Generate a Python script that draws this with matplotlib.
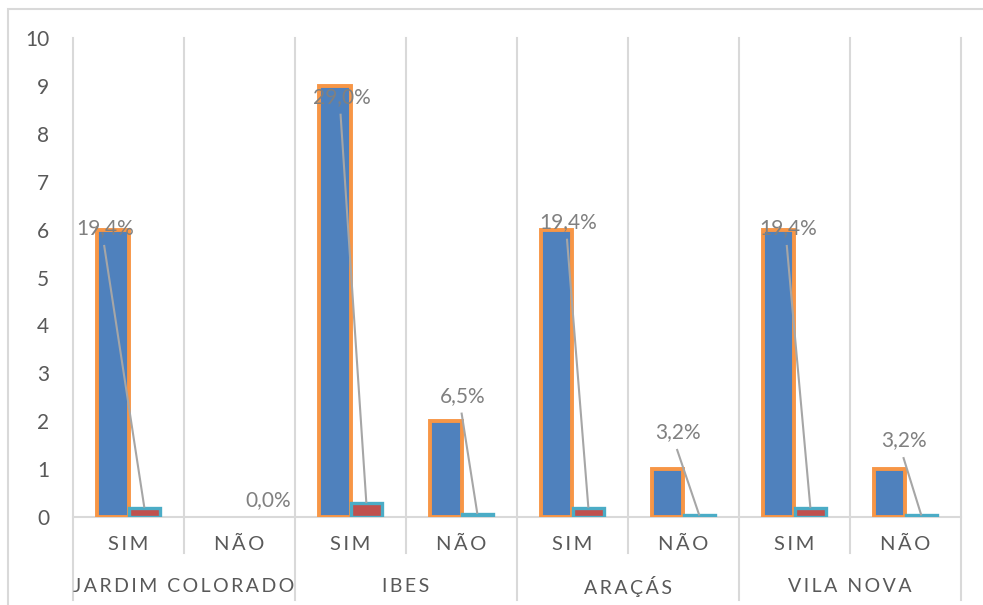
import matplotlib.pyplot as plt
from matplotlib.patches import Rectangle
import numpy as np

plt.rcParams['font.family'] = ['Lato', 'DejaVu Sans']

# data
groups = ["JARDIM COLORADO", "IBES", "ARAÇÁS", "VILA NOVA"]
answers = ["SIM", "NÃO"]
counts = [6, 0, 9, 2, 6, 1, 6, 1]
shares = [0.194, 0.0, 0.290, 0.065, 0.194, 0.032, 0.194, 0.032]
share_labels = ["19,4%", "0,0%", "29,0%", "6,5%", "19,4%", "3,2%", "19,4%", "3,2%"]
yticks = list(range(0, 11))

# hand placed label positions (dx from category centre, y in value units)
label_pos = [(-0.21, 6.03), (0.26, 0.35), (-0.08, 8.77), (0.01, 2.53),
             (-0.04, 6.16), (-0.05, 1.77), (-0.06, 6.03), (-0.01, 1.60)]

grid_col = "#D9D9D9"
txt_col = "#595959"

fig = plt.figure(figsize=(9.83, 6.05), dpi=100)
ax = fig.add_axes([73 / 983, 88 / 605, 888 / 983, 479 / 605])

x = np.arange(len(counts))
w = 1 / 3.5
# zero values get no outline, like in the reference
lw_counts = [2.8 if c > 0 else 0 for c in counts]
lw_shares = [2.4 if s > 0 else 0 for s in shares]
ax.bar(x - w / 2, counts, w, color="#4F81BD", edgecolor="#F79646",
       linewidth=lw_counts, zorder=3)
ax.bar(x + w / 2, shares, w, color="#C0504D", edgecolor="#4BACC6",
       linewidth=lw_shares, zorder=4)

# percentage labels with leader lines
for i, (dx, ly) in enumerate(label_pos):
    lx = x[i] + dx
    ax.text(lx, ly, share_labels[i], ha="center", va="center", fontsize=15,
            color="#808080", zorder=6)
    if shares[i] > 0:
        ax.plot([lx - 0.01, x[i] + w / 2], [ly - 0.35, shares[i]], color="#A6A6A6",
                linewidth=1.5, zorder=5, solid_capstyle="butt")

ax.set_xlim(-0.5, len(counts) - 0.5)
ax.set_ylim(0, 10)
ax.set_yticks(yticks)
ax.set_xticks([])
ax.tick_params(axis="y", length=0, pad=17, labelsize=15, labelcolor=txt_col)
for s in ["left", "right", "top"]:
    ax.spines[s].set_visible(False)
ax.spines["bottom"].set_color(grid_col)
ax.spines["bottom"].set_linewidth(1.5)

# category boundaries and separators below the axis
trans = ax.get_xaxis_transform()
for k in range(len(counts) + 1):
    xb = k - 0.5
    low = -0.173 if k % 2 == 0 else -0.075
    ax.plot([xb, xb], [low, 1], color=grid_col, linewidth=1.5, transform=trans,
            clip_on=False, zorder=1)

def spaced(s):
    return "\u2009".join(s)

for i in range(len(counts)):
    ax.text(x[i], -0.058, spaced(answers[i % 2]), transform=trans, ha="center",
            va="center", fontsize=14.5, color=txt_col)
for g, name in enumerate(groups):
    ax.text(2 * g + 0.5, -0.145, spaced(name), transform=trans, ha="center",
            va="center", fontsize=14, color=txt_col)

# outer chart frame
fig.patches.append(Rectangle((8 / 983, -0.05), 1.1, 0.05 + 596 / 605,
                             transform=fig.transFigure, fill=False,
                             edgecolor=grid_col, linewidth=1.5))

fig.savefig("out.png", dpi=100)
